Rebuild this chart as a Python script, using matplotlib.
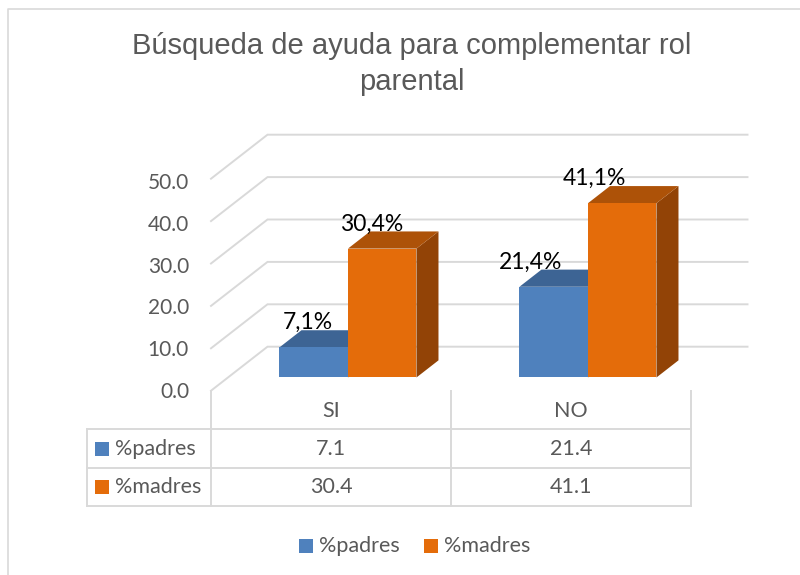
import matplotlib
matplotlib.use('Agg')
import matplotlib.pyplot as plt
from matplotlib.patches import Polygon, Rectangle

# ---------------- data ----------------
categories = ['SI', 'NO']
series_names = ['%padres', '%madres']
padres = [7.1, 21.4]
madres = [30.4, 41.1]
yticks = [0, 10, 20, 30, 40, 50]
title = 'Búsqueda de ayuda para complementar rol\nparental'

# ---------------- style ----------------
blue = dict(front='#4F81BD', top='#3D6494', side='#375C8A')
orange = dict(front='#E46C0A', top='#AD5208', side='#924306')
grid_color = '#D9D9D9'
text_gray = '#595959'
FONT = 'Lato'

W, H = 800, 575
fig = plt.figure(figsize=(W / 100, H / 100), dpi=100)

# layout (pixels)
PX_PER_CAT = 240.0
CAT0_PX = 331.0
V0_PX = 390.7
PX_PER_V = 4.24
DEPTH_X = 56.5 / PX_PER_CAT
DEPTH_Y = 44.0 / PX_PER_V

ax = fig.add_axes([0, 0, 1, 1])
ax.set_xlim(-CAT0_PX / PX_PER_CAT, (W - CAT0_PX) / PX_PER_CAT)
ax.set_ylim((V0_PX - H) / PX_PER_V, V0_PX / PX_PER_V)
ax.axis('off')


def proj(x, v, d):
    return (x + d * DEPTH_X, v + d * DEPTH_Y)


def px_to_x(px):
    return (px - CAT0_PX) / PX_PER_CAT


def x_to_px(x):
    return CAT0_PX + x * PX_PER_CAT


# walls / gridlines
x_left = -0.5
x_right = len(categories) - 0.5
for t in yticks:
    p0 = proj(x_left, t, 0)
    p1 = proj(x_left, t, 1)
    p2 = proj(x_right, t, 1)
    ax.plot([p0[0], p1[0], p2[0]], [p0[1], p1[1], p2[1]], color=grid_color,
            lw=1.4, zorder=1, solid_joinstyle='miter')
    ax.text(px_to_x(189), t * 0.988 - 0.35, f'{t:.1f}', ha='right', va='center',
            fontsize=15, family=FONT, color=text_gray)

# bars
bw = 68.5 / PX_PER_CAT
d0, d1 = 0.3, 0.69
for i, cat in enumerate(categories):
    for s, (vals, col) in enumerate([(padres, blue), (madres, orange)]):
        xa = i - bw + s * bw
        xb = xa + bw
        v = vals[i]
        z = 3 + i * 10 + s * 3
        side = [proj(xb, 0, d0), proj(xb, 0, d1), proj(xb, v, d1), proj(xb, v, d0)]
        top = [proj(xa, v, d0), proj(xb, v, d0), proj(xb, v, d1), proj(xa, v, d1)]
        front = [proj(xa, 0, d0), proj(xb, 0, d0), proj(xb, v, d0), proj(xa, v, d0)]
        ax.add_patch(Polygon(side, closed=True, fc=col['side'], ec='none', zorder=z))
        ax.add_patch(Polygon(top, closed=True, fc=col['top'], ec='none', zorder=z + 1))
        ax.add_patch(Polygon(front, closed=True, fc=col['front'], ec='none', zorder=z + 2))
        # data label
        cx_px = x_to_px((xa + xb) / 2 + d0 * DEPTH_X)
        lab_px = 0.932 * cx_px + 15
        ax.text(px_to_x(lab_px), v + d1 * DEPTH_Y + 0.25,
                f'{v:.1f}'.replace('.', ',') + '%', ha='center', va='baseline',
                fontsize=16.5, family=FONT, color='#000000', zorder=50)

# ---------------- overlay in pixel coords (table, legend, title) ----------------
tax = fig.add_axes([0, 0, 1, 1], zorder=5)
tax.set_xlim(0, W)
tax.set_ylim(H, 0)
tax.axis('off')
tax.patch.set_alpha(0)

lw_t = 1.4
col_bounds = [x_to_px(i - 0.5) for i in range(len(categories) + 1)]
row_lines = [429, 468, 506]
left_edge = 87
for xb in col_bounds:
    tax.plot([xb, xb], [391, row_lines[-1]], color=grid_color, lw=lw_t)
tax.plot([left_edge, left_edge], [row_lines[0], row_lines[-1]], color=grid_color, lw=lw_t)
for yr in row_lines:
    tax.plot([left_edge, col_bounds[-1]], [yr, yr], color=grid_color, lw=lw_t)

for i, cat in enumerate(categories):
    tax.text(x_to_px(i), 411, cat, ha='center', va='center', fontsize=15.5,
             family=FONT, color=text_gray)

row_y = [449, 487]
for r, (name, vals, col) in enumerate([(series_names[0], padres, blue),
                                         (series_names[1], madres, orange)]):
    y = row_y[r]
    tax.add_patch(Rectangle((95, y - 7), 14, 14, fc=col['front'], ec='none'))
    tax.text(115, y, name, ha='left', va='center', fontsize=15.5, family=FONT,
             color=text_gray)
    for i, v in enumerate(vals):
        tax.text(x_to_px(i), y, f'{v:.1f}', ha='center', va='center',
                 fontsize=15.5, family=FONT, color=text_gray)

# bottom legend
leg_y = 546
leg_x = [299, 424]
for k, (name, col) in enumerate([(series_names[0], blue), (series_names[1], orange)]):
    tax.add_patch(Rectangle((leg_x[k], leg_y - 7), 14, 14, fc=col['front'], ec='none'))
    tax.text(leg_x[k] + 20, leg_y, name, ha='left', va='center', fontsize=15.5,
             family=FONT, color=text_gray)

# title
tax.text(412, 64, title, ha='center', va='center', fontsize=21,
         family='Liberation Sans', color=text_gray, linespacing=1.38)

# chart border
tax.plot([8, 8, W + 5], [H + 5, 9, 9], color=grid_color, lw=1.2)

fig.savefig('out.png', dpi=100)
